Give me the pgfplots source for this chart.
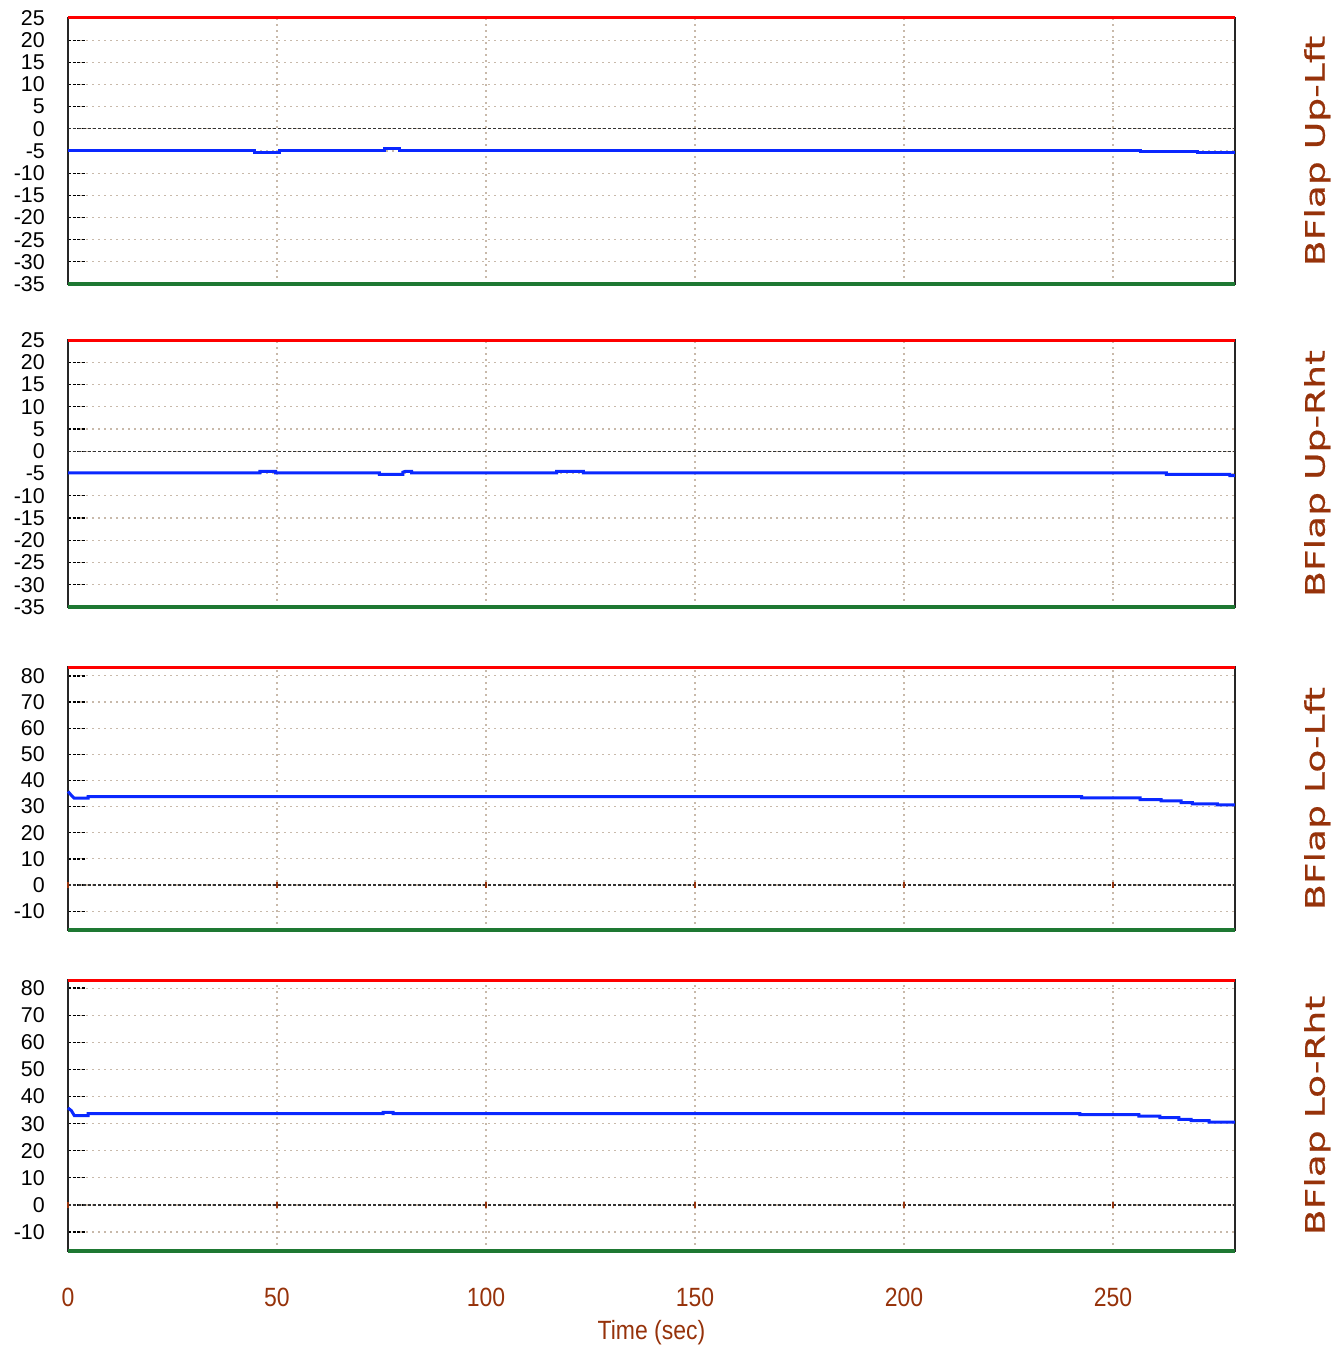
\documentclass[border=0pt]{standalone}
\usepackage{fontspec}
\setmainfont{Liberation Sans}
\newfontfamily\narrowfont[FakeStretch=0.87]{Liberation Sans}
\newfontfamily\labfont[FakeStretch=1.4,FakeBold=0.5]{DejaVu Sans}
\usepackage{pgfplots}
\pgfplotsset{compat=1.18}
\definecolor{gridc}{RGB}{200,185,170}
\definecolor{brn}{RGB}{150,50,10}
\definecolor{bl}{RGB}{10,40,255}
\definecolor{grn}{RGB}{30,120,50}
\pgfplotsset{panel/.style={
  scale only axis, width=1167bp, xmin=0, xmax=279.2, clip=false,
  anchor=north west,
  axis line style={black!85, line width=1.5bp},
  xtick={0,50,...,250}, xticklabels={},
  xtick style={draw=none},
  grid=major,
  major grid style={gridc, line width=1.2bp, dash pattern=on 2bp off 4bp},
  ytick pos=left, tick align=inside, major tick length=17bp,
  ytick style={black, line width=1.3bp, dash pattern=on 3bp off 1.5bp},
  yticklabel style={font=\fontsize{21.5}{24}\selectfont, anchor=east, inner sep=0pt, xshift=-23bp},
  ylabel style={at={(axis description cs:1.0705,0.5)}, anchor=center,
     font=\labfont\fontsize{27}{30}\selectfont, text=brn},
}}
\pgfplotsset{
  redl/.style={red, line width=3bp},
  grnl/.style={grn, line width=3.5bp},
  zerol/.style={black!80, line width=1.3bp, dash pattern=on 3bp off 2bp},
  blu/.style={bl, line width=3bp},
  brtick/.style={brn, only marks, mark=|, mark size=3bp, line width=1.5bp},
}
\begin{document}
\begin{tikzpicture}
\path[use as bounding box] (0,0) rectangle (1343bp,-1350bp);

% Panel 1
\begin{axis}[panel, at={(68bp,-18bp)}, height=266bp, ymin=-35, ymax=25,
  ytick={-35,-30,...,25},
  yticklabels={-35,-30,-25,-20,-15,-10,-5,0,5,10,15,20,25},
  ylabel={BFlap Up-Lft}]
\addplot[zerol] coordinates {(0,0) (279.2,0)};
\addplot[blu] table {
0 -4.9
44.7 -4.9
44.7 -5.25
50.5 -5.25
50.5 -4.9
75.8 -4.9
75.8 -4.4
79.4 -4.4
79.4 -4.9
256.5 -4.9
256.5 -5.1
270.3 -5.1
270.3 -5.4
279.2 -5.4
};
\addplot[redl] coordinates {(0,25) (279.2,25)};
\addplot[grnl] coordinates {(0,-35) (279.2,-35)};
\end{axis}

% Panel 2
\begin{axis}[panel, at={(68bp,-340bp)}, height=267bp, ymin=-35, ymax=25,
  ytick={-35,-30,...,25},
  yticklabels={-35,-30,-25,-20,-15,-10,-5,0,5,10,15,20,25},
  ylabel={BFlap Up-Rht}]
\addplot[zerol] coordinates {(0,0) (279.2,0)};
\addplot[blu] table {
0 -4.85
45.9 -4.85
45.9 -4.55
49.7 -4.55
49.7 -4.85
74.5 -4.85
74.5 -5.2
80.1 -5.2
80.1 -4.7
80.6 -4.55
82.2 -4.55
82.2 -4.85
116.9 -4.85
116.9 -4.55
123.3 -4.55
123.3 -4.85
262.8 -4.85
262.8 -5.2
278 -5.2
278 -5.5
279.2 -5.5
};
\addplot[redl] coordinates {(0,25) (279.2,25)};
\addplot[grnl] coordinates {(0,-35) (279.2,-35)};
\end{axis}

% Panel 3
\begin{axis}[panel, at={(68bp,-667bp)}, height=263bp, ymin=-17.2, ymax=83.4,
  ytick={-10,0,...,80},
  yticklabels={-10,0,10,20,30,40,50,60,70,80},
  ylabel={BFlap Lo-Lft}]
\addplot[zerol] coordinates {(0,0) (279.2,0)};
\addplot[brtick] coordinates {(0,0) (50,0) (100,0) (150,0) (200,0) (250,0)};
\addplot[blu] table {
0 35.8
0.7 34.5
1.5 33.2
4.8 33.2
4.8 33.8
242.5 33.8
242.5 33.3
256.5 33.3
256.5 32.7
261.5 32.7
261.5 32.2
266.3 32.2
266.3 31.5
269 31.5
269 31.0
275 31.0
275 30.65
279.2 30.65
};
\addplot[redl] coordinates {(0,83.4) (279.2,83.4)};
\addplot[grnl] coordinates {(0,-17.2) (279.2,-17.2)};
\end{axis}

% Panel 4
\begin{axis}[panel, at={(68bp,-980bp)}, height=271bp, ymin=-17, ymax=83,
  ytick={-10,0,...,80},
  yticklabels={-10,0,10,20,30,40,50,60,70,80},
  ylabel={BFlap Lo-Rht},
  xticklabels={0,50,100,150,200,250},
  xticklabel style={font=\narrowfont\fontsize{26.5}{28}\selectfont, text=brn, anchor=center, inner sep=0pt, yshift=-46bp},
  xlabel={Time (sec)},
  xlabel style={at={(axis description cs:0.5,-0.3026)}, anchor=center, font=\narrowfont\fontsize{26.5}{28}\selectfont, text=brn}]
\addplot[zerol] coordinates {(0,0) (279.2,0)};
\addplot[brtick] coordinates {(0,0) (50,0) (100,0) (150,0) (200,0) (250,0)};
\addplot[blu] table {
0 35.8
0.8 34.8
1.5 33.0
4.8 33.0
4.8 33.7
75.4 33.7
75.4 34.2
77.8 34.2
77.8 33.7
242.1 33.7
242.1 33.3
256.2 33.3
256.2 32.8
261.2 32.8
261.2 32.2
265.8 32.2
265.8 31.6
268.7 31.6
268.7 31.1
273 31.1
273 30.6
279.2 30.6
};
\addplot[redl] coordinates {(0,83) (279.2,83)};
\addplot[grnl] coordinates {(0,-17) (279.2,-17)};
\end{axis}
\end{tikzpicture}
\end{document}
